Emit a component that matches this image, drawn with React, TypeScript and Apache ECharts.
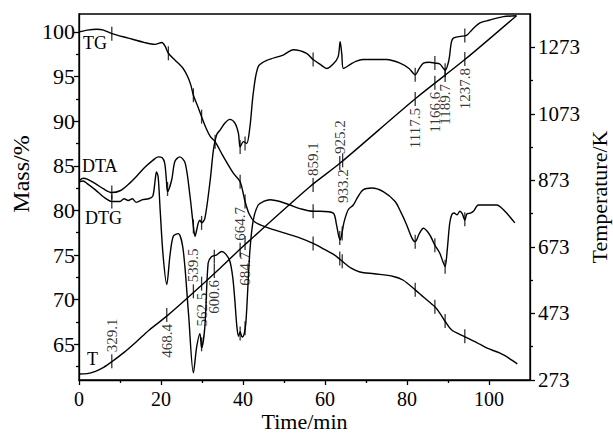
import React, { useEffect, useRef } from "react";
import * as echarts from "echarts";

// ---------- data (time in min) ----------
const tgData: [number, number][] = [
  [0, 100.0], [2, 100.2], [4.3, 100.3], [6, 100.2], [8, 99.8], [12, 99.3], [16, 98.8], [18.5, 98.6],
  [20.2, 98.8], [21, 98.4], [21.8, 97.6], [23.5, 96.8], [25.4, 95.9], [26.5, 95.0], [27.3, 94.0],
  [27.9, 92.9], [29, 91.6], [29.9, 90.5], [31, 89.2], [32, 88.3], [33.2, 87.7], [35, 86.2],
  [37.6, 84.2], [39.3, 83.2], [40.5, 81.0], [41.5, 79.6], [42.9, 78.7], [45.8, 78.1], [49.8, 77.5],
  [54, 76.9], [57.1, 76.3], [60, 75.6], [62, 75.1], [63.7, 74.5], [65, 74.0], [66.5, 73.5],
  [68.5, 73.1], [72, 72.9], [76.7, 72.6], [79, 72.2], [82, 71.1], [84, 70.3], [86.8, 69.2],
  [88, 68.5], [89.4, 67.5], [90.9, 66.6], [93.9, 65.9], [97, 65.2], [99.4, 64.6], [102.7, 64.0],
  [105, 63.4], [106.9, 62.8],
];

const dtaData: [number, number][] = [
  [0, 83.3], [1, 83.6], [2, 83.5], [4, 83.0], [6, 82.4], [8, 82.0], [10, 82.2], [12, 82.9],
  [14, 83.8], [16, 84.8], [18, 85.6], [19.3, 86.0], [20.3, 85.9], [20.9, 85.3], [21.3, 83.5],
  [21.6, 82.1], [22.6, 83.4], [23.4, 85.5], [24.6, 86.0], [25.9, 85.3], [27.1, 81.5], [27.9, 78.2],
  [28.3, 77.1], [28.7, 77.8], [29.1, 78.6], [29.5, 78.9], [29.9, 78.6], [30.7, 79.1], [32, 83.4],
  [32.8, 86.8], [33.6, 88.5], [34.4, 89.0], [35.6, 89.8], [36.8, 90.2], [38, 89.8], [38.9, 88.6],
  [39.3, 87.1], [40.1, 87.7], [40.9, 87.5], [41.7, 89.4], [42.5, 93.1], [43.7, 96.1], [45.8, 96.8],
  [49.8, 97.4], [52.3, 98.0], [55.5, 97.6], [57.1, 96.9], [59, 96.3], [60.4, 95.9], [62, 96.4],
  [63.2, 97.2], [63.7, 98.9], [64.1, 97.5], [64.5, 95.9], [66, 96.3], [67.5, 96.7], [69.3, 96.9],
  [73.4, 96.9], [75, 96.9], [78.3, 96.5], [80.5, 95.9], [82, 95.2], [83, 95.9], [84, 96.5],
  [85.5, 96.6], [86.8, 96.5], [88, 96.4], [89.3, 95.7], [90.2, 96.8], [90.8, 98.8], [91.3, 99.3],
  [93, 99.5], [94.5, 99.6], [96, 100.3], [97.8, 101.0], [100, 101.3], [103.5, 101.7], [106.7, 101.8],
];

const dtgData: [number, number][] = [
  [0, 83.2], [1, 83.3], [2, 83.0], [4, 82.3], [6, 81.5], [8, 81.0], [10, 81.0], [11, 81.3],
  [12, 81.1], [13, 81.3], [14, 80.9], [15.5, 81.2], [17, 81.3], [18, 81.6], [18.6, 83.5],
  [18.9, 84.3], [19.3, 83.8], [19.8, 80.0], [20.5, 75.0], [21.4, 71.7], [22.2, 75.0], [23, 77.1],
  [24.2, 77.4], [25.4, 75.6], [26.7, 68.5], [27.9, 61.8], [28.7, 64.7], [29.5, 66.2], [29.9, 64.6],
  [30.7, 67.0], [31.5, 74.1], [32.3, 74.8], [33.5, 75.0], [34.8, 75.4], [35.8, 75.1], [36.8, 74.3],
  [37.5, 72.5], [38, 70.0], [38.5, 67.0], [38.9, 65.9], [39.3, 66.4], [39.8, 65.8], [40.3, 66.2],
  [40.7, 67.4], [41.2, 71.5], [41.7, 75.6], [42.5, 78.9], [43.7, 80.6], [45, 81.0], [46.6, 81.2],
  [49, 81.0], [51.5, 80.6], [53.9, 80.2], [57.1, 79.9], [58.8, 79.9], [62, 79.7], [62.8, 78.4],
  [63.4, 77.0], [63.7, 76.7], [64.2, 77.6], [64.7, 78.8], [65.7, 80.1], [66.9, 80.6], [68, 81.5],
  [69.3, 82.3], [71.4, 82.5], [74.2, 82.1], [77.1, 81.0], [78.5, 79.8], [79.9, 78.4], [81.2, 76.9],
  [82, 76.5], [83, 77.4], [84, 78.0], [85.5, 77.3], [86.8, 76.1], [88, 75.2], [88.8, 74.2],
  [89.3, 73.7], [89.8, 75.5], [90.4, 78.5], [90.9, 79.5], [91.5, 79.7], [92.2, 79.5], [92.9, 79.9],
  [93.5, 79.6], [94.1, 78.9], [94.6, 79.6], [95.5, 79.7], [96.2, 79.9], [97.4, 80.6], [99, 80.6],
  [101.9, 80.6], [103, 80.3], [104.3, 79.7], [106.3, 78.6],
];

const tempData: [number, number][] = [
  [0, 291], [2, 292], [4, 299], [6, 311], [8, 328], [11, 356], [14, 388], [17, 422], [21.4, 465],
  [26.3, 518], [34.4, 609], [40.5, 680], [56.3, 854], [63.7, 925], [82.1, 1119], [94.1, 1236],
  [106.7, 1368],
];

// characteristic points: time (min) and temperature (K) printed beside the T curve
const eventTimes = [8.0, 21.4, 27.9, 29.9, 33.0, 39.3, 40.5, 57.1, 63.6, 64.3, 82.0, 86.8, 89.3, 94.1];
const eventTemps = [329.1, 468.4, 539.5, 562.5, 600.6, 664.7, 684.7, 859.1, 925.2, 933.2, 1117.5, 1166.6, 1189.7, 1237.8];
const eventLabels = ["329.1", "468.4", "539.5", "562.5", "600.6", "664.7", "684.7", "859.1", "925.2", "933.2", "1117.5", "1166.6", "1189.7", "1237.8"];

// marks on the other curves (time, value)
const tgMarks: [number, number][] = [
  [8, 99.8], [21.8, 97.6], [27.9, 92.9], [29.9, 90.5], [33.2, 87.7], [39.3, 83.2], [40.5, 81.0],
  [57.1, 76.3], [63.6, 74.6], [64.2, 74.3], [82, 71.1], [86.8, 69.2], [89.3, 67.6], [94.1, 65.9],
];
const dtaMarks: [number, number][] = [
  [8, 82.0], [21.6, 82.4], [27.9, 78.2], [29.9, 78.6], [39.3, 87.1], [40.5, 87.5], [57.1, 96.9],
  [82, 95.2], [86.8, 96.5], [89.3, 95.7], [94.1, 99.6],
];
const dtgMarks: [number, number][] = [
  [8, 81.0], [29.9, 65.0], [33.0, 74.8], [39.3, 66.2], [40.5, 66.8], [57.1, 79.9], [63.6, 76.9],
  [64.2, 77.4], [82, 76.5], [86.8, 76.1], [89.3, 73.7], [94.1, 79.0],
];

// axes
const xTicks = [0, 20, 40, 60, 80, 100];
const xMinor = [10, 30, 50, 70, 90];
const massTicks = [65, 70, 75, 80, 85, 90, 95, 100];
const massMinor = [62.5, 67.5, 72.5, 77.5, 82.5, 87.5, 92.5, 97.5];
const tempTicks = [273, 473, 673, 873, 1073, 1273];
const tempMinor = [373, 573, 773, 973, 1173];

// ---------- styling ----------
const FONT = "Liberation Serif, Times New Roman, serif";
const INK = "#000";
const labelPlacement = ["top", "bottom", "top", "bottom", "bottom", "top", "bottom", "top", "top", "bottom", "bottom", "bottom", "bottom", "bottom"];

function markSeries(data: any[], yAxisIndex: number) {
  return {
    type: "scatter",
    yAxisIndex,
    symbol: "rect",
    symbolSize: [1.3, 14],
    itemStyle: { color: INK },
    data,
    silent: true,
    z: 5,
  };
}

export default function App() {
  const ref = useRef<HTMLDivElement>(null);
  useEffect(() => {
    if (!ref.current) return;
    const chart = echarts.init(ref.current, null, { renderer: "svg" });
    const line = (data: [number, number][], yAxisIndex: number) => ({
      type: "line",
      data,
      yAxisIndex,
      showSymbol: false,
      smooth: 0.3,
      lineStyle: { color: INK, width: 1.4 },
      silent: true,
      z: 3,
    });
    const axisFont = { color: INK, fontFamily: FONT, fontSize: 20 };
    const tEvents = eventTimes.map((t, i) => {
      const top = labelPlacement[i] === "top";
      return {
        value: [t, eventTemps[i]],
        label: {
          show: true,
          formatter: eventLabels[i],
          position: top ? "top" : "bottom",
          distance: 2,
          rotate: 90,
          align: top ? "left" : "right",
          verticalAlign: "middle",
          color: INK,
          fontFamily: FONT,
          fontSize: 15,
        },
      };
    });
    chart.setOption({
      animation: false,
      backgroundColor: "#fff",
      grid: {
        left: 79, right: 83, top: 14, bottom: 54, show: true, borderColor: INK, borderWidth: 1.3,
        backgroundColor: "transparent", containLabel: false, outerBoundsMode: "none",
      },
      xAxis: [
        {
          type: "value", min: 0, max: 110, position: "bottom",
          axisLine: { show: true, lineStyle: { color: INK, width: 1.3 } },
          axisTick: { show: true, customValues: xTicks, length: 5, inside: false, lineStyle: { color: INK, width: 1.3 } },
          axisLabel: { show: true, customValues: xTicks, margin: 9, ...axisFont },
          splitLine: { show: false },
          name: "Time/min", nameLocation: "middle", nameGap: 30, nameMoveOverlap: false,
          nameTextStyle: { color: INK, fontFamily: FONT, fontSize: 22, lineHeight: 22 },
        },
        {
          type: "value", min: 0, max: 110, position: "bottom",
          axisLine: { show: false },
          axisTick: { show: true, customValues: xMinor, length: 3, lineStyle: { color: INK, width: 1.3 } },
          axisLabel: { show: false },
          splitLine: { show: false },
        },
      ],
      yAxis: [
        {
          type: "value", min: 61, max: 102, position: "left",
          axisLine: { show: true, lineStyle: { color: INK, width: 1.3 } },
          axisTick: { show: true, customValues: massTicks, length: 5, lineStyle: { color: INK, width: 1.3 } },
          axisLabel: { show: true, customValues: massTicks, margin: 4, ...axisFont, fontSize: 22 },
          splitLine: { show: false },
          name: "Mass/%", nameLocation: "middle", nameGap: 46, nameRotate: 90, nameMoveOverlap: false,
          nameTextStyle: { color: INK, fontFamily: FONT, fontSize: 24, padding: [0, 0, 0, 46] },
        },
        {
          type: "value", min: 61, max: 102, position: "left",
          axisLine: { show: false },
          axisTick: { show: true, customValues: massMinor, length: 3, lineStyle: { color: INK, width: 1.3 } },
          axisLabel: { show: false },
          splitLine: { show: false },
        },
        {
          type: "value", min: 273, max: 1373, position: "right",
          axisLine: { show: true, lineStyle: { color: INK, width: 1.3 } },
          axisTick: { show: true, customValues: tempTicks, length: 5, lineStyle: { color: INK, width: 1.3 } },
          axisLabel: { show: true, customValues: tempTicks, margin: 8, ...axisFont, fontSize: 21, formatter: (v: number) => String(v) },
          splitLine: { show: false },
          name: "Temperature/K", nameLocation: "middle", nameGap: 58, nameRotate: 90, nameMoveOverlap: false,
          nameTextStyle: { color: INK, fontFamily: FONT, fontSize: 22, lineHeight: 22 },
        },
        {
          type: "value", min: 273, max: 1373, position: "right",
          axisLine: { show: false },
          axisTick: { show: true, customValues: tempMinor, length: 3, lineStyle: { color: INK, width: 1.3 } },
          axisLabel: { show: false },
          splitLine: { show: false },
        },
      ],
      graphic: [
        { type: "text", left: 83, top: 34, style: { text: "TG", fill: INK, font: `18px ${FONT}` } },
        { type: "text", left: 82, top: 157, style: { text: "DTA", fill: INK, font: `18px ${FONT}` } },
        { type: "text", left: 85, top: 209, style: { text: "DTG", fill: INK, font: `18px ${FONT}` } },
        { type: "text", left: 87, top: 350, style: { text: "T", fill: INK, font: `18px ${FONT}` } },
      ],
      series: [
        line(tgData, 0),
        line(dtaData, 0),
        line(dtgData, 0),
        line(tempData, 2),
        markSeries(tgMarks, 0),
        markSeries(dtaMarks, 0),
        markSeries(dtgMarks, 0),
        markSeries(tEvents, 2),
      ],
    });
    return () => chart.dispose();
  }, []);
  return <div ref={ref} style={{ width: 613, height: 434, position: "absolute", left: 0, top: 0 }} />;
}
